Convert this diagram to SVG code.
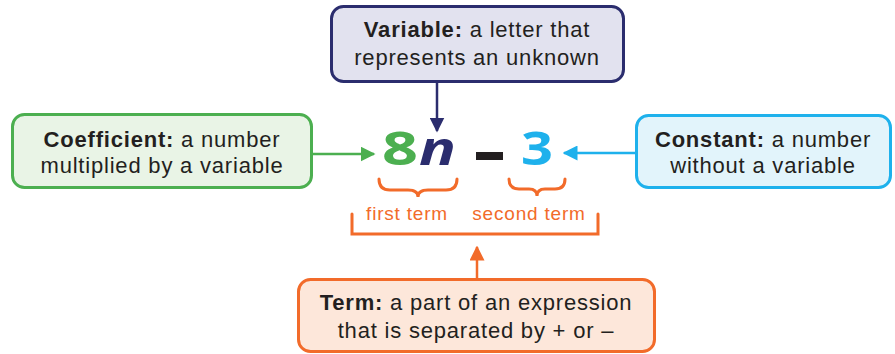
<svg xmlns="http://www.w3.org/2000/svg" width="895" height="354" viewBox="0 0 895 354">
<defs>
<style>
.t{font-family:"Liberation Sans",Arial,sans-serif;font-size:22px;letter-spacing:0.8px;fill:#231f20;text-anchor:middle}
.b{font-weight:bold}
.big{font-family:"Noto Sans","Open Sans",sans-serif;font-size:47px;font-weight:bold}
.lab{font-family:"Liberation Sans",Arial,sans-serif;font-size:19px;letter-spacing:0.8px;fill:#f26b2a;text-anchor:middle}
.box{stroke-width:3}
</style>
<marker id="aNavy" viewBox="0 0 10 10" refX="9" refY="5" markerWidth="6" markerHeight="6" orient="auto"><path d="M0,0 L10,5 L0,10 z" fill="#2b2d6e"/></marker>
<marker id="aGreen" viewBox="0 0 10 10" refX="9" refY="5" markerWidth="6" markerHeight="6" orient="auto"><path d="M0,0 L10,5 L0,10 z" fill="#4caf50"/></marker>
<marker id="aBlue" viewBox="0 0 10 10" refX="9" refY="5" markerWidth="6" markerHeight="6" orient="auto"><path d="M0,0 L10,5 L0,10 z" fill="#1eb1ec"/></marker>
<marker id="aOrange" viewBox="0 0 10 10" refX="9" refY="5" markerWidth="6" markerHeight="6" orient="auto"><path d="M0,0 L10,5 L0,10 z" fill="#f26b2a"/></marker>
</defs>
<rect width="895" height="354" fill="#fff"/>
<g id="connectors" fill="none" stroke-width="2.5">
<line x1="437" y1="82" x2="437" y2="131" stroke="#2b2d6e" marker-end="url(#aNavy)"/>
<line x1="312" y1="154" x2="374" y2="154" stroke="#4caf50" marker-end="url(#aGreen)"/>
<line x1="636" y1="153" x2="564" y2="153" stroke="#1eb1ec" marker-end="url(#aBlue)"/>
<line x1="477" y1="279" x2="477" y2="247" stroke="#f26b2a" marker-end="url(#aOrange)"/>
</g>
<g id="variable">
<rect class="box" x="331.5" y="6.5" width="292" height="75" rx="12" fill="#e2e2ef" stroke="#2b2d6e"/>
<text class="t" x="477" y="37"><tspan class="b">Variable:</tspan> a letter that</text>
<text class="t" x="477" y="65">represents an unknown</text>
</g>
<g id="coefficient">
<rect class="box" x="12.5" y="114.5" width="299" height="73" rx="12" fill="#e9f4e6" stroke="#4caf50"/>
<text class="t" x="162" y="147"><tspan class="b">Coefficient:</tspan> a number</text>
<text class="t" x="162" y="173">multiplied by a variable</text>
</g>
<g id="constant">
<rect class="box" x="636.5" y="115.5" width="254" height="72" rx="12" fill="#e2f4fb" stroke="#1eb1ec"/>
<text class="t" x="763" y="147"><tspan class="b">Constant:</tspan> a number</text>
<text class="t" x="763" y="173">without a variable</text>
</g>
<g id="term">
<rect class="box" x="298.5" y="279.5" width="356" height="72" rx="12" fill="#fde7da" stroke="#f26b2a"/>
<text class="t" x="476" y="310"><tspan class="b">Term:</tspan> a part of an expression</text>
<text class="t" x="476" y="338">that is separated by + or –</text>
</g>
<g id="expression">
<text class="big" x="382" y="165" fill="#4caf50" textLength="36" lengthAdjust="spacingAndGlyphs">8</text>
<text class="big" x="419" y="165" fill="#2b2d6e" font-style="italic" textLength="37" lengthAdjust="spacingAndGlyphs">n</text>
<rect x="476" y="152" width="27" height="8" fill="#231f20"/>
<text class="big" x="521" y="165" fill="#1eb1ec" textLength="32" lengthAdjust="spacingAndGlyphs">3</text>
</g>
<g id="braces" fill="none" stroke="#f26b2a" stroke-width="3" stroke-linecap="round">
<path d="M379,179 Q379,190 390,190 L408,190 Q418,190 418,197 Q418,190 428,190 L446,190 Q457,190 457,179"/>
<path d="M509,179 Q509,189 519,189 L529,189 Q537,189 537,196 Q537,189 545,189 L555,189 Q565,189 565,179"/>
<path d="M352,214 L352,234 L598,234 L598,214"/>
</g>
<g id="labels">
<text class="lab" x="407" y="220">first term</text>
<text class="lab" x="529" y="220">second term</text>
</g>
</svg>
